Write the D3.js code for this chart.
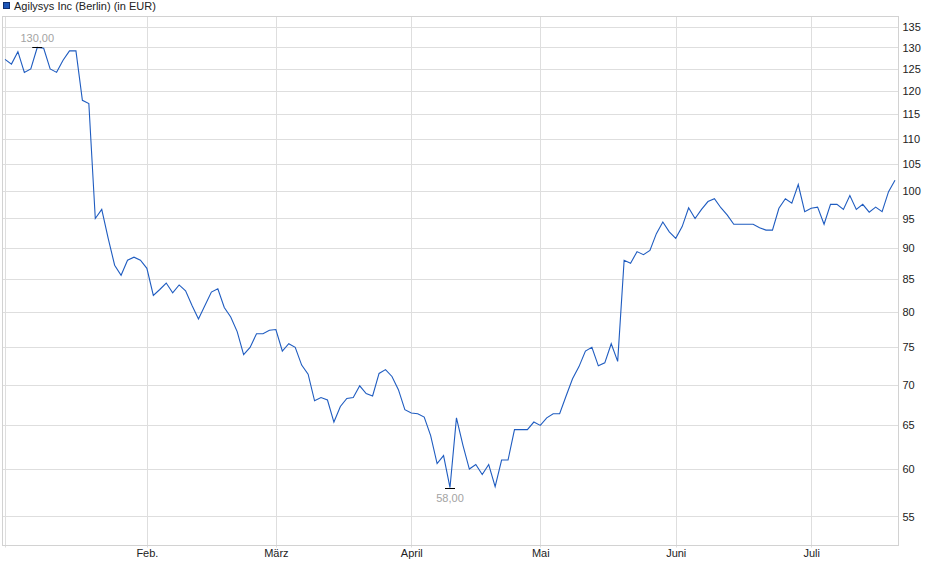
<!DOCTYPE html>
<html>
<head>
<meta charset="utf-8">
<script src="https://cdn.jsdelivr.net/npm/d3@7"></script>
<style>
  body { margin: 0; background: #fff; }
  svg { display: block; font-family: 'Liberation Sans', Arial, sans-serif; }
</style>
</head>
<body>
<div class="Canvas"></div>
<script>
// closing prices, one per trading day from 2 Jan to mid July
const closes = [
  127.2, 126.1, 129.0, 124.2, 125.0, 130.0, 129.8, 125.0, 124.2, 127.0,
  129.2, 129.2, 118.0, 117.3, 95.0, 96.6, 91.6, 87.2, 85.6, 88.0,
  88.5, 88.0, 86.7, 82.5, 83.4, 84.4, 82.9, 84.1, 83.2, 81.0,
  79.0, 81.0, 83.0, 83.5, 80.7, 79.3, 77.2, 74.0, 75.0, 76.9,
  76.9, 77.4, 77.5, 74.5, 75.5, 75.0, 72.6, 71.4, 68.0, 68.4,
  68.1, 65.4, 67.3, 68.3, 68.4, 69.9, 68.9, 68.6, 71.5, 72.0,
  71.1, 69.4, 66.9, 66.5, 66.4, 66.0, 63.8, 60.6, 61.5, 58.0,
  65.9, 62.7, 60.0, 60.5, 59.4, 60.5, 58.1, 61.0, 61.0, 64.5,
  64.5, 64.5, 65.4, 65.0, 65.9, 66.4, 66.4, 68.6, 70.8, 72.4,
  74.5, 75.0, 72.5, 72.9, 75.5, 73.1, 88.0, 87.5, 89.4, 88.9,
  89.6, 92.4, 94.4, 92.7, 91.6, 93.6, 96.9, 95.0, 96.6, 98.0,
  98.5, 96.9, 95.6, 94.0, 94.0, 94.0, 94.0, 93.4, 93.0, 93.0,
  96.8, 98.5, 97.7, 101.1, 96.2, 96.8, 97.0, 94.0, 97.5, 97.5,
  96.6, 99.1, 96.6, 97.5, 96.1, 97.0, 96.2, 99.8, 101.9,
];

const monthLabels = ['Feb.', 'März', 'April', 'Mai', 'Juni', 'Juli'];
const monthStarts = [22, 42, 63, 83, 104, 125];
const yTicks = [55, 60, 65, 70, 75, 80, 85, 90, 95, 100, 105, 110, 115, 120, 125, 130, 135];
const legendLabel = 'Agilysys Inc (Berlin) (in EUR)';

const width = 940;
const height = 579;
const frame = { left: 2.5, right: 898.5, top: 16.5, bottom: 545.5 };
const lineColor = '#1f5cc0';
const gridColor = '#dedede';
const fmt = (v) => v.toFixed(2).replace('.', ',');

const svg = d3
  .select('.Canvas')
  .append('svg')
  .attr('width', width)
  .attr('height', height);

const x = d3.scaleLinear().domain([0, closes.length - 1]).range([5, 895]);
const y = d3.scaleLog().domain([52.15, 137.6]).range([frame.bottom, frame.top]);

// horizontal grid
svg
  .append('g')
  .selectAll('line')
  .data(yTicks)
  .enter()
  .append('line')
  .attr('x1', frame.left)
  .attr('x2', frame.right)
  .attr('y1', (d) => Math.round(y(d)) + 0.5)
  .attr('y2', (d) => Math.round(y(d)) + 0.5)
  .attr('stroke', gridColor)
  .attr('stroke-width', 1);

// vertical grid, first day of each month (plus the start)
svg
  .append('g')
  .selectAll('line')
  .data([0].concat(monthStarts))
  .enter()
  .append('line')
  .attr('x1', (d) => Math.round(x(d)) + 0.5)
  .attr('x2', (d) => Math.round(x(d)) + 0.5)
  .attr('y1', frame.top)
  .attr('y2', frame.bottom + 2)
  .attr('stroke', gridColor)
  .attr('stroke-width', 1);

svg
  .append('rect')
  .attr('x', frame.left)
  .attr('y', frame.top)
  .attr('width', frame.right - frame.left)
  .attr('height', frame.bottom - frame.top)
  .attr('fill', 'none')
  .attr('stroke', '#d2d2d2')
  .attr('stroke-width', 1);

// y axis on the right
const yAxis = d3
  .axisRight(y)
  .tickValues(yTicks)
  .tickSize(0)
  .tickPadding(4)
  .tickFormat(d3.format('d'));
const yAxisG = svg.append('g').attr('transform', `translate(${frame.right},0)`).call(yAxis);
yAxisG.select('.domain').remove();
yAxisG.selectAll('text').attr('font-size', '11px').attr('fill', '#222').attr('font-family', "'Liberation Sans', Arial, sans-serif");

// month labels
const xAxis = d3
  .axisBottom(x)
  .tickValues(monthStarts)
  .tickSize(0)
  .tickPadding(4)
  .tickFormat((d, i) => monthLabels[i]);
const xAxisG = svg.append('g').attr('transform', `translate(0,${frame.bottom})`).call(xAxis);
xAxisG.select('.domain').remove();
xAxisG.selectAll('text').attr('font-size', '11px').attr('fill', '#222').attr('font-family', "'Liberation Sans', Arial, sans-serif");

// price line
const line = d3
  .line()
  .x((d, i) => x(i))
  .y((d) => y(d));
svg
  .append('path')
  .datum(closes)
  .attr('d', line)
  .attr('fill', 'none')
  .attr('stroke', lineColor)
  .attr('stroke-width', 1.1);

// high / low markers
const hi = d3.maxIndex(closes);
const lo = d3.minIndex(closes);
const marks = [
  { i: hi, v: closes[hi], dy: -5 },
  { i: lo, v: closes[lo], dy: 14 },
];
svg
  .append('g')
  .selectAll('line')
  .data(marks)
  .enter()
  .append('line')
  .attr('x1', (d) => x(d.i) - 5)
  .attr('x2', (d) => x(d.i) + 5)
  .attr('y1', (d) => Math.round(y(d.v)) + 0.5)
  .attr('y2', (d) => Math.round(y(d.v)) + 0.5)
  .attr('stroke', '#000')
  .attr('stroke-width', 1);
svg
  .append('g')
  .selectAll('text')
  .data(marks)
  .enter()
  .append('text')
  .attr('x', (d) => x(d.i))
  .attr('y', (d) => y(d.v) + d.dy)
  .attr('text-anchor', 'middle')
  .attr('font-size', '11px')
  .attr('fill', '#a3a3a3')
  .text((d) => fmt(d.v));

// legend
svg
  .append('rect')
  .attr('x', 3.5)
  .attr('y', 2.5)
  .attr('width', 6)
  .attr('height', 6)
  .attr('fill', '#1d56b8')
  .attr('stroke', '#0e2f70')
  .attr('stroke-width', 1);
svg
  .append('text')
  .attr('x', 14)
  .attr('y', 10)
  .attr('font-size', '11px')
  .attr('fill', '#222')
  .text(legendLabel);
</script>
</body>
</html>
